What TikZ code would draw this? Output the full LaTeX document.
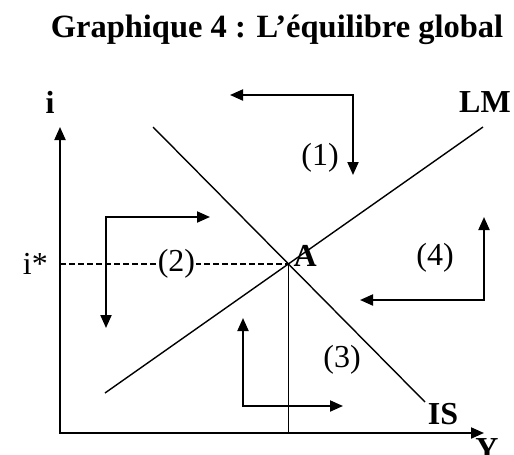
\documentclass[tikz,border=0pt]{standalone}
\usepackage{fontspec}
\setmainfont{Liberation Serif}
\usetikzlibrary{arrows.meta,positioning,intersections}

\begin{document}
\begin{tikzpicture}[x=1pt, y=-1pt, >={Triangle[length=13pt,width=11pt]},
    axis/.style={line width=2pt, <->},
    curve/.style={line width=1.4pt},
    turn/.style={line width=2pt, <->},
    guide/.style={line width=1.2pt, dash pattern=on 6pt off 3pt},
    lbl/.style={font=\fontsize{32}{36}\selectfont, inner sep=0pt},
    blbl/.style={font=\fontsize{32}{36}\selectfont\bfseries, inner sep=0pt}]
    \useasboundingbox (0,0) rectangle (514,455);

    % title
    \node[font=\fontsize{32.5}{38}\selectfont\bfseries, inner sep=0pt] (title) at (277,30) {Graphique 4 : L’équilibre global};

    % axes
    \coordinate (O) at (60,433);
    \coordinate (itop) at (60,127);
    \coordinate (yend) at (484,433);
    \draw[axis] (itop) -- (O) -- (yend);
    \node[blbl] (ilab) at (50,102) {i};
    \node[blbl] (ylab) at (487,449) {Y};

    % IS and LM curves
    \coordinate (is1) at (153,127);
    \coordinate (is2) at (425,402);
    \coordinate (lm1) at (105,393);
    \coordinate (lm2) at (483,127);
    \draw[curve, name path=isline] (is1) -- (is2);
    \draw[curve, name path=lmline] (lm1) -- (lm2);
    \node[blbl] (islab) at (443,414) {IS};
    \node[blbl] (lmlab) at (485,102) {LM};

    % equilibrium A
    \path[name intersections={of=isline and lmline, by=A}];
    \coordinate (iy) at (O |- A);
    \draw[guide] (iy) -- node[lbl, fill=white, inner xsep=1pt, pos=0.51] (two) {(2)} (A);
    \draw[line width=1.3pt] (A) -- (A |- O);
    \node[lbl, left=12pt of iy] (istar) {i*};
    \node[blbl, anchor=base west, xshift=5pt, yshift=-3pt] (alab) at (A) {A};

    % adjustment arrows
    \foreach \n/\ax/\ay/\kx/\ky/\bx/\by in {1/230/95/353/95/353/175, 2/210/217/106/217/106/328,
        3/243/318/243/406/343/406, 4/360/300/484/300/484/217} {
        \coordinate (a\n) at (\ax,\ay);
        \coordinate (k\n) at (\kx,\ky);
        \coordinate (b\n) at (\bx,\by);
        \draw[turn] (a\n) -- (k\n) -- (b\n);
    }
    \node[lbl] (one) at (320,158) {(1)};
    \node[lbl] (three) at (342,360) {(3)};
    \node[lbl] (four) at (435,258) {(4)};
\end{tikzpicture}
\end{document}
